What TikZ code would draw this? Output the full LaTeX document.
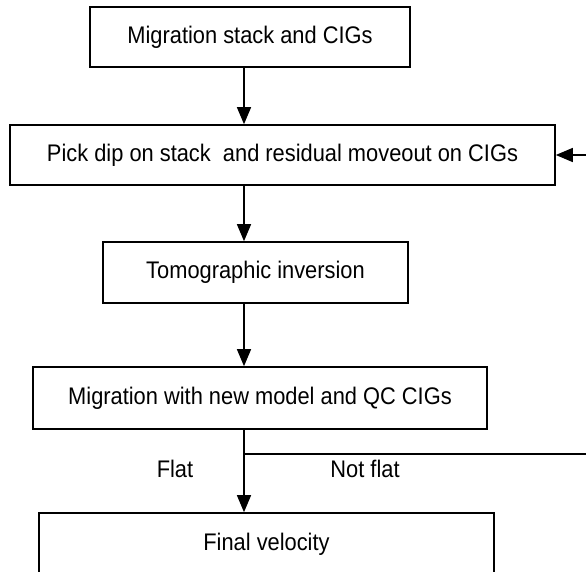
\documentclass[tikz,border=0pt]{standalone}
\usepackage{fontspec}
\setmainfont[FakeStretch=0.91]{Liberation Sans}
\usetikzlibrary{arrows.meta}
\tikzset{
  stepbox/.style={draw, line width=1.6pt, inner sep=0pt, font=\fontsize{24}{28}\selectfont},
  flow/.style={line width=1.4pt, -{Triangle[length=17pt,width=14pt]}},
  plain/.style={line width=1.4pt},
  tag/.style={font=\fontsize{24}{28}\selectfont}
}
\begin{document}
\begin{tikzpicture}[x=1pt,y=1pt]
      \useasboundingbox (0,0) rectangle (586,571);
      \clip (0,0) rectangle (586,571);
      \draw
        (250,534) node[stepbox, minimum width=320, minimum height=60] (stack){Migration stack and CIGs}
        (282.5,416) node[stepbox, minimum width=545, minimum height=60] (pick){Pick dip on stack \ and residual moveout on CIGs}
        (255.5,298.5) node[stepbox, minimum width=305, minimum height=61] (tomo){Tomographic inversion}
        (260,173) node[stepbox, minimum width=454, minimum height=62] (qc){Migration with new model and QC CIGs}
        (266.5,27) node[stepbox, minimum width=455, minimum height=62] (final){Final velocity}
        (175,102) node[tag] (flat){Flat}
        (365,102) node[tag] (notflat){Not flat};
      \coordinate (col) at (244,0);
      \coordinate (split) at (244,117);
      \coordinate (loopend) at (586,117);
      \coordinate (back) at (586,416);
      \begin{scope}
        \draw[flow] (stack.south -| col) to (pick.north -| col);
        \draw[flow] (pick.south -| col) to (tomo.north -| col);
        \draw[flow] (tomo.south -| col) to (qc.north -| col);
        \draw[flow] (qc.south -| col) to (final.north -| col);
        \draw[plain] (split) to (loopend);
        \draw[flow] (back) to (pick.east);
      \end{scope}
    \end{tikzpicture}
\end{document}
